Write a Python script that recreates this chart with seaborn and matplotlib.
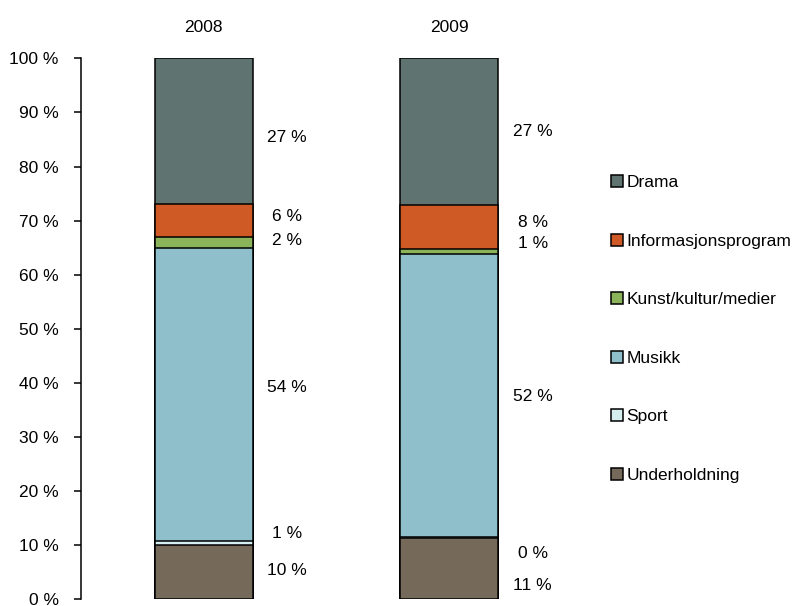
import pandas as pd
import seaborn as sns
import matplotlib.pyplot as plt
from matplotlib.patches import Patch

# data (percent of total)
years = ['2008', '2009']
categories = ['Underholdning', 'Sport', 'Musikk', 'Kunst/kultur/medier',
              'Informasjonsprogram', 'Drama']
underholdning = [10.0, 11.3]
sport = [0.8, 0.2]
musikk = [54.2, 52.3]
kunst = [1.9, 0.9]
informasjon = [6.15, 8.2]
drama = [26.95, 27.1]
label_text = [['10 %', '1 %', '54 %', '2 %', '6 %', '27 %'],
              ['11 %', '0 %', '52 %', '1 %', '8 %', '27 %']]

colors = ['#75695A', '#D5EEF0', '#8FBFCB', '#8AB35A', '#D05A26', '#5F7470']
# small nudges (percentage points) so that the thin-segment labels don't overlap
nudge = [[0.2, 1.8, 1.3, 0.4, 0.7, -1.2],
         [-3.2, -2.9, -0.2, 1.6, 0.8, 0.0]]

df = pd.DataFrame({'year': years, 'Underholdning': underholdning, 'Sport': sport,
                   'Musikk': musikk, 'Kunst/kultur/medier': kunst,
                   'Informasjonsprogram': informasjon, 'Drama': drama})
cum = df[categories].cumsum(axis=1)

sns.set_style('white')
plt.rcParams['font.family'] = ['Liberation Sans', 'DejaVu Sans']
for k in ['text.color', 'axes.labelcolor', 'xtick.color', 'ytick.color']:
    plt.rcParams[k] = 'black'
FS = 12.5

fig = plt.figure(figsize=(7.94, 6.06), dpi=100)
ax = fig.add_axes([0.102, 0.0116, 0.6184, 0.892])

# draw the stack from the top down, each bar from 0 to its cumulative sum
for cat, col in zip(categories[::-1], colors[::-1]):
    sns.barplot(x=df['year'], y=cum[cat], color=col, width=0.4, ax=ax,
                edgecolor='black', linewidth=1.1, saturation=1)

# value labels to the right of each bar
for i in range(len(years)):
    lower = 0
    for j, cat in enumerate(categories):
        val = df.loc[i, cat]
        ymid = lower + val / 2 + nudge[i][j]
        ax.text(i + 0.34, ymid, label_text[i][j], ha='center', va='center', fontsize=FS)
        lower += val

ax.set_xlim(-0.5, 1.5)
ax.set_ylim(0, 100)
ax.set_yticks(range(0, 101, 10))
ax.set_yticklabels([f'{v} %' for v in range(0, 101, 10)], fontsize=FS)
ax.tick_params(axis='y', direction='out', length=5, width=1.1, pad=11, left=True)
ax.xaxis.tick_top()
ax.tick_params(axis='x', length=0, pad=17, labelsize=FS)
ax.set_xlabel('')
ax.set_ylabel('')
for s in ['top', 'right', 'bottom']:
    ax.spines[s].set_visible(False)
ax.spines['left'].set_linewidth(1.1)
ax.spines['left'].set_color('black')

handles = [Patch(facecolor=c, edgecolor='black', linewidth=1.1, label=n)
           for n, c in zip(categories[::-1], colors[::-1])]
fig.legend(handles=handles, loc='center left', bbox_to_anchor=(0.7695, 0.457),
           bbox_transform=fig.transFigure, frameon=False, fontsize=FS,
           handlelength=0.7, handleheight=0.7, handletextpad=0.2,
           labelspacing=2.5, borderpad=0, borderaxespad=0)

fig.savefig('out.png', dpi=100)
